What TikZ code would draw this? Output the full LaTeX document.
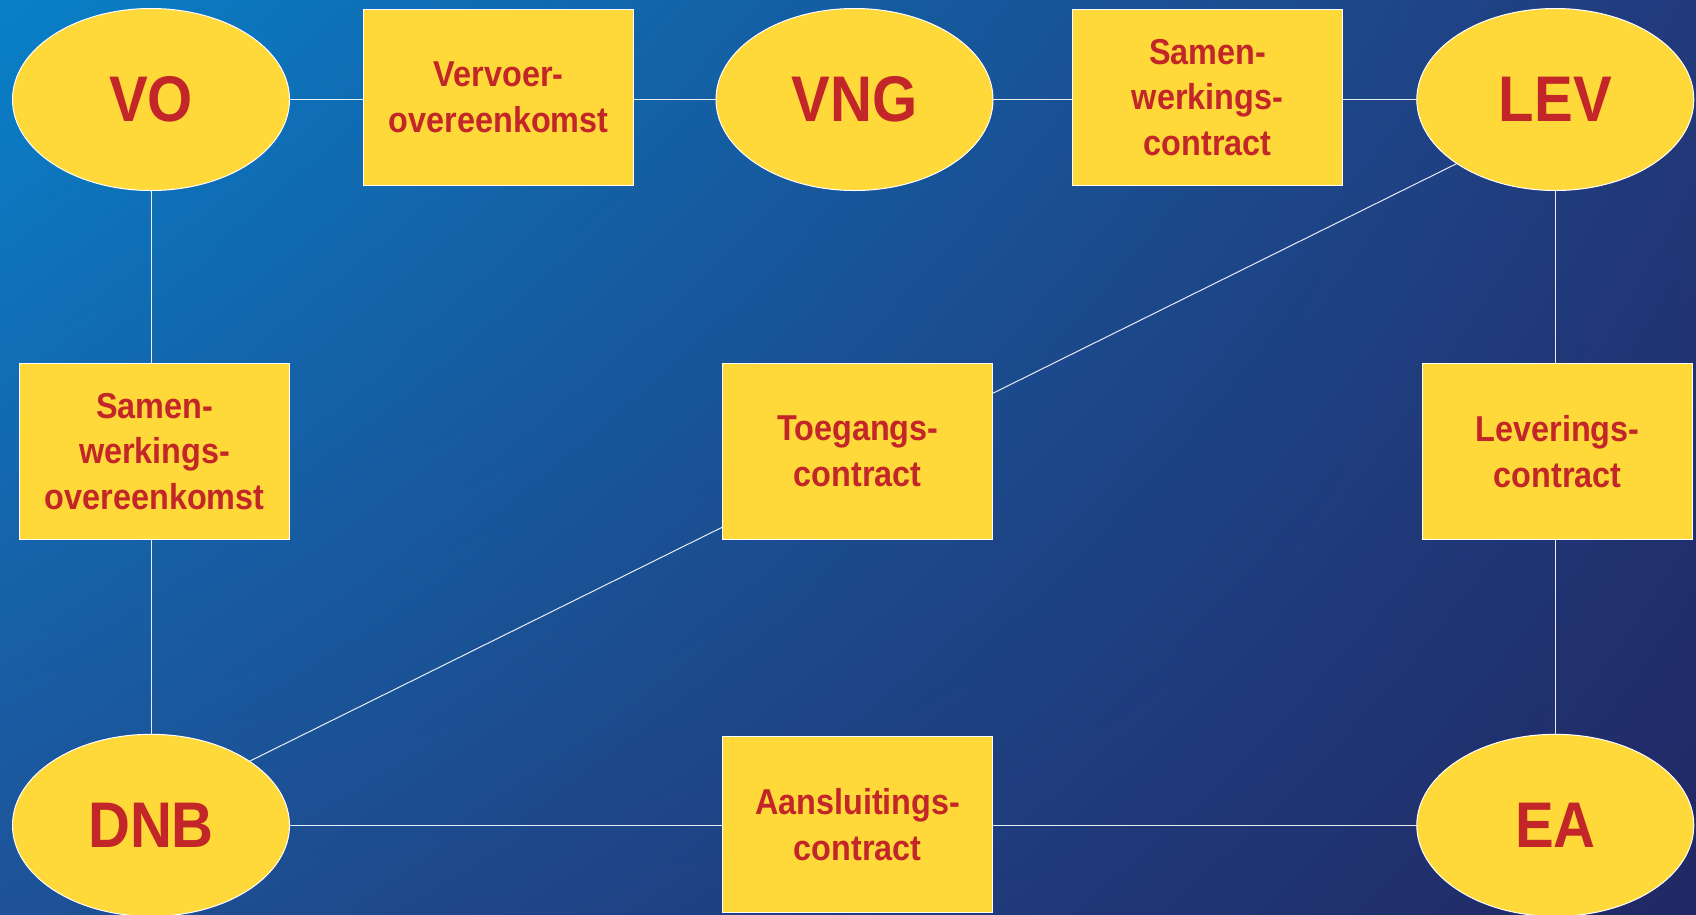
\documentclass[tikz,border=0pt]{standalone}
\usepackage{fontspec}
\usetikzlibrary{shapes.geometric,backgrounds,shadings}
\newfontfamily\labfont[FakeStretch=0.9]{Liberation Sans}
\pgfdeclarelayer{canvas}
\pgfsetlayers{canvas,background,main}
\definecolor{nodefill}{RGB}{255,216,58}
\definecolor{labelred}{RGB}{194,38,40}
\definecolor{bgA}{RGB}{8,128,200}
\definecolor{bgB}{RGB}{34,58,124}
\definecolor{bgC}{RGB}{30,82,152}
\definecolor{bgD}{RGB}{33,40,100}
\tikzset{
  party/.style={ellipse, draw=white, line width=1pt, fill=nodefill,
    minimum width=277pt, minimum height=182pt, inner sep=0pt,
    text=labelred, font=\labfont\bfseries\fontsize{64.5}{72}\selectfont},
  contract/.style={rectangle, draw=white, line width=1pt, fill=nodefill,
    minimum width=270pt, minimum height=176pt, inner sep=0pt, align=center,
    text=labelred, font=\labfont\bfseries\fontsize{36}{45.5}\selectfont},
  link/.style={draw=white, line width=1pt, opacity=0.9}
}
\begin{document}
\begin{tikzpicture}[x=1pt,y=-1pt]
  \useasboundingbox (0,0) rectangle (1696,914);
  \begin{pgfonlayer}{canvas}
    \shade[upper left=bgA, upper right=bgB, lower left=bgC, lower right=bgD]
      (0,0) rectangle (1696,914);
  \end{pgfonlayer}

  % parties
  \node[party] (VO)  at (151,99.5)    {VO};
  \node[party] (VNG) at (854.5,99.5)  {VNG};
  \node[party] (LEV) at (1555.3,99.5) {LEV};
  \node[party] (DNB) at (151,825.3)   {DNB};
  \node[party] (EA)  at (1555.3,825.3){EA};

  % contracts
  \node[contract] (vervoer) at (498.6,97.5)  {Vervoer-\\overeenkomst};
  \node[contract] (swc)     at (1207.6,97.5) {Samen-\\werkings-\\contract};
  \node[contract] (swo)     at (154.7,451.5) {Samen-\\werkings-\\overeenkomst};
  \node[contract] (toeg)    at (857.7,451.5) {Toegangs-\\contract};
  \node[contract] (lev)     at (1557.5,451.5){Leverings-\\contract};
  \node[contract] (aansl)   at (857.7,824.5) {Aansluitings-\\contract};

  % connectors, behind the nodes
  \begin{pgfonlayer}{background}
    \draw[link] (VO.center) -- (LEV.center);
    \draw[link] (VO.center) -- (DNB.center);
    \draw[link] (LEV.center) -- (EA.center);
    \draw[link] (DNB.center) -- (EA.center);
    \draw[link] (DNB.33) -- (LEV.213);
  \end{pgfonlayer}
\end{tikzpicture}
\end{document}
